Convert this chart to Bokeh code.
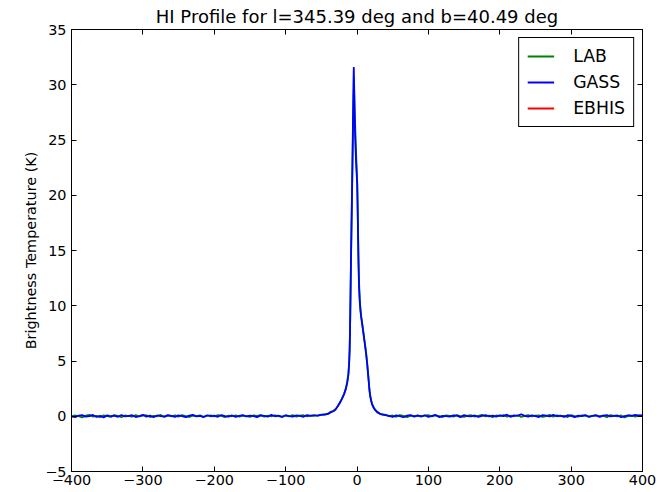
from bokeh.plotting import figure
from bokeh.models import ColumnDataSource, FixedTicker, LinearAxis, Legend, LegendItem, Range1d
from bokeh.embed import file_html
from bokeh.resources import INLINE

TITLE = "HI Profile for l=345.39 deg and b=40.49 deg"
Y_LABEL = "Brightness Temperature (K)"

X_TICKS = [-400, -300, -200, -100, 0, 100, 200, 300, 400]
X_TICK_LABELS = ["\u2212400", "\u2212300", "\u2212200", "\u2212100", "0", "100", "200", "300", "400"]
Y_TICKS = [-5, 0, 5, 10, 15, 20, 25, 30, 35]
Y_TICK_LABELS = ["\u22125", "0", "5", "10", "15", "20", "25", "30", "35"]

# velocity channels (km/s)
V_LEFT = list(range(-400, -39, 5))
V_PEAK = [-37, -33, -30, -27, -24, -21, -18, -15.5, -13.5, -12,
          -11, -10.3, -9.7, -9.1, -8.5, -7.8, -7.0, -6.3, -5.6, -5.0,
          -4.5, -4.0, -3.4, -2.7, -1.8, -0.8, 0.3, 1.2, 2.0, 2.8,
          3.8, 4.9, 6.0, 7.3, 8.6, 10.0, 11.5, 13.0, 14.3, 15.5,
          16.6, 17.5, 18.5, 19.8, 21.0, 23.0, 25.5, 28.5, 32, 35.5]
V_RIGHT = list(range(40, 401, 5))

# GASS brightness temperatures (K)
GASS_LEFT = [0.02, -0.08, 0.05, 0.10, -0.04, 0.01, 0.12, -0.06, 0.03, -0.10,
             0.08, 0.00, 0.06, -0.05, 0.11, -0.02, 0.04, 0.09, -0.07, 0.02,
             0.13, -0.03, 0.05, -0.09, 0.07, 0.01, -0.04, 0.10, 0.03, -0.06,
             0.08, 0.02, -0.08, 0.06, 0.12, -0.01, 0.04, -0.07, 0.09, 0.00,
             0.05, -0.05, 0.11, 0.02, -0.03, 0.07, -0.06, 0.04, 0.10, -0.02,
             0.06, 0.01, -0.08, 0.08, 0.03, -0.04, 0.12, 0.00, 0.05, -0.06,
             0.09, 0.02, -0.03, 0.07, 0.04, -0.05, 0.10, 0.03, 0.06, 0.08,
             0.12, 0.15, 0.22]
GASS_PEAK = [0.35, 0.45, 0.6, 0.9, 1.2, 1.6, 2.0, 2.5, 3.1, 3.8,
             4.8, 6.0, 8.0, 11.0, 14.0, 17.0, 20.3, 23.5, 27.0, 30.0,
             31.6, 30.0, 27.5, 25.5, 23.8, 22.3, 21.0, 17.5, 14.0, 11.8,
             10.4, 9.5, 8.9, 8.3, 7.7, 7.0, 6.3, 5.5, 4.7, 3.8,
             3.0, 2.3, 1.8, 1.4, 1.1, 0.8, 0.55, 0.35, 0.22, 0.15]
GASS_RIGHT = [0.10, 0.04, -0.06, 0.08, 0.02, -0.09, 0.05, 0.11, -0.03, 0.06,
              0.00, 0.09, -0.05, 0.03, 0.12, -0.07, 0.04, 0.01, -0.04, 0.08,
              0.05, -0.08, 0.10, 0.02, -0.02, 0.07, -0.06, 0.03, 0.11, -0.01,
              0.06, -0.04, 0.09, 0.01, 0.14, -0.05, 0.08, 0.03, 0.18, 0.04,
              -0.03, 0.07, 0.02, -0.07, 0.10, 0.05, -0.02, 0.12, 0.00, 0.06,
              -0.05, 0.09, 0.03, -0.08, 0.06, 0.01, 0.11, -0.04, 0.04, 0.08,
              -0.06, 0.05, 0.10, -0.02, 0.03, 0.07, -0.09, 0.02, 0.09, 0.04,
              0.12, 0.06, 0.10]

# LAB brightness temperatures (K)
LAB_LEFT = [-0.05, 0.08, 0.00, -0.10, 0.06, 0.12, -0.03, 0.04, -0.08, 0.09,
            0.02, -0.06, 0.10, 0.03, -0.09, 0.07, 0.01, -0.04, 0.11, -0.02,
            0.05, 0.09, -0.07, 0.03, 0.00, 0.12, -0.05, 0.06, -0.01, 0.08,
            -0.04, 0.10, 0.02, -0.07, 0.05, 0.01, 0.09, -0.06, 0.03, 0.07,
            -0.02, 0.11, 0.04, -0.08, 0.06, 0.00, 0.09, -0.03, 0.05, 0.02,
            -0.06, 0.08, 0.03, 0.10, -0.04, 0.06, -0.01, 0.09, 0.02, -0.05,
            0.07, 0.00, 0.11, -0.03, 0.05, 0.09, -0.02, 0.06, 0.10, 0.04,
            0.14, 0.18, 0.25]
LAB_PEAK = [0.4, 0.5, 0.65, 0.9, 1.25, 1.6, 2.05, 2.55, 3.2, 3.9,
            4.9, 6.1, 7.9, 10.6, 13.5, 16.5, 19.8, 22.8, 25.8, 28.2,
            29.6, 29.5, 28.2, 26.6, 24.8, 23.0, 21.2, 18.0, 14.8, 12.3,
            10.7, 9.7, 9.0, 8.4, 7.8, 7.1, 6.4, 5.6, 4.8, 3.9,
            3.1, 2.4, 1.9, 1.45, 1.15, 0.85, 0.6, 0.4, 0.25, 0.18]
LAB_RIGHT = [0.13, 0.00, 0.07, -0.05, 0.10, 0.03, -0.08, 0.06, 0.01, 0.09,
             -0.04, 0.05, 0.11, -0.02, 0.07, 0.00, -0.07, 0.08, 0.03, -0.03,
             0.10, 0.01, -0.06, 0.06, 0.09, -0.04, 0.04, 0.12, -0.01, 0.05,
             -0.08, 0.07, 0.02, 0.10, -0.03, 0.06, 0.00, 0.09, -0.05, 0.03,
             0.11, -0.02, 0.05, 0.08, -0.06, 0.02, 0.13, -0.04, 0.07, 0.01,
             0.04, -0.07, 0.10, 0.02, -0.03, 0.08, 0.05, -0.06, 0.03, 0.09,
             0.00, 0.06, -0.08, 0.11, 0.04, -0.02, 0.07, -0.10, 0.03, 0.05,
             -0.04, 0.08, 0.02]

# EBHIS has no coverage at this position (undefined value)
EBHIS_V = [0.0]
EBHIS_T = [float("nan")]

FONT = "DejaVu Sans"

v = V_LEFT + V_PEAK + V_RIGHT
gass = GASS_LEFT + GASS_PEAK + GASS_RIGHT
lab = LAB_LEFT + LAB_PEAK + LAB_RIGHT

p = figure(width=663, height=492, output_backend="svg", toolbar_location=None,
           x_range=Range1d(-400, 400), y_range=Range1d(-5, 35),
           min_border_left=71, min_border_right=21, min_border_top=29, min_border_bottom=21)

p.title.text = TITLE
p.title.align = "center"
p.title.text_font = FONT
p.title.text_font_size = "18px"
p.title.text_font_style = "normal"
p.title.text_color = "black"
p.title.offset = 0
p.title.standoff = 6

p.xgrid.visible = False
p.ygrid.visible = False
p.outline_line_color = "black"
p.outline_line_width = 1
p.outline_line_alpha = 1
p.background_fill_color = "white"
p.border_fill_color = "white"

r_lab = p.line(x="v", y="t", source=ColumnDataSource(dict(v=v, t=lab)), line_color="#008000", line_width=1.8)
r_gass = p.line(x="v", y="t", source=ColumnDataSource(dict(v=v, t=gass)), line_color="#0000ff", line_width=1.8)
r_ebhis = p.line(x="v", y="t", source=ColumnDataSource(dict(v=EBHIS_V, t=EBHIS_T)), line_color="#ff0000", line_width=1.8)

def style_axis(ax, ticks, labels, show_labels):
    ax.ticker = FixedTicker(ticks=ticks)
    ax.major_label_overrides = {t: l for t, l in zip(ticks, labels)}
    ax.minor_tick_line_color = None
    ax.major_tick_in = 5
    ax.major_tick_out = 0
    ax.major_tick_line_color = "black"
    ax.axis_line_color = "black"
    ax.major_label_text_font = FONT
    if show_labels:
        ax.major_label_text_font_size = "14.4px"
        ax.major_label_text_color = "black"
        ax.major_label_standoff = 4
    else:
        ax.major_label_text_font_size = "0px"
        ax.major_label_text_color = None
        ax.major_label_standoff = 0

style_axis(p.xaxis[0], X_TICKS, X_TICK_LABELS, True)
style_axis(p.yaxis[0], Y_TICKS, Y_TICK_LABELS, True)
p.xaxis[0].major_label_standoff = 3
p.yaxis[0].major_label_standoff = 5
p.yaxis[0].axis_label = Y_LABEL
p.yaxis[0].axis_label_text_font = FONT
p.yaxis[0].axis_label_text_font_size = "14.4px"
p.yaxis[0].axis_label_text_font_style = "normal"
p.yaxis[0].axis_label_text_color = "black"
p.yaxis[0].axis_label_standoff = 3

top_ax = LinearAxis()
style_axis(top_ax, X_TICKS, X_TICK_LABELS, False)
p.add_layout(top_ax, "above")
right_ax = LinearAxis()
style_axis(right_ax, Y_TICKS, Y_TICK_LABELS, False)
p.add_layout(right_ax, "right")

legend = Legend(items=[LegendItem(label="LAB", renderers=[r_lab]),
                       LegendItem(label="GASS", renderers=[r_gass]),
                       LegendItem(label="EBHIS", renderers=[r_ebhis])],
                location="top_right")
legend.margin = 8
legend.padding = 8
legend.spacing = 6
legend.glyph_width = 27
legend.glyph_height = 20
legend.label_height = 20
legend.label_standoff = 19
legend.label_text_font = FONT
legend.label_text_font_size = "17.3px"
legend.label_text_color = "black"
legend.border_line_color = "black"
legend.border_line_width = 1
legend.border_line_alpha = 1
legend.background_fill_color = "white"
legend.background_fill_alpha = 1
p.add_layout(legend, "center")

open("out.html", "w").write(file_html(p, INLINE))
